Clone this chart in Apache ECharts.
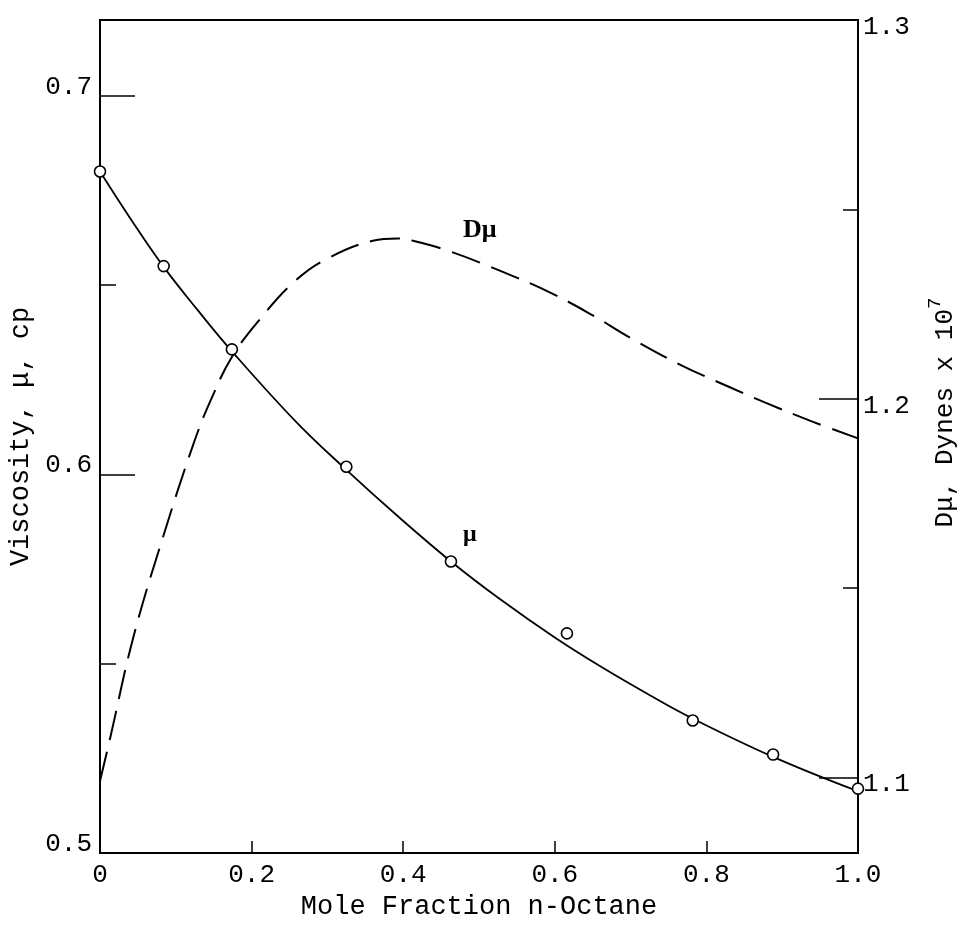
<!DOCTYPE html>
<html>
<head>
<meta charset="utf-8">
<script src="https://cdn.jsdelivr.net/npm/echarts@6/dist/echarts.min.js"></script>
<style>
html,body{margin:0;padding:0;background:#fff;}
#chart{width:962px;height:925px;}
</style>
</head>
<body>
<div id="chart"></div>
<script>
// ---- data ----
const muX = [0, 0.084, 0.174, 0.325, 0.463, 0.616, 0.782, 0.888, 1.0];
const muY = [0.680, 0.655, 0.633, 0.602, 0.577, 0.558, 0.535, 0.526, 0.517];

const muCurveX = [0, 0.042, 0.084, 0.13, 0.174, 0.26, 0.325, 0.396, 0.463, 0.528, 0.60, 0.66, 0.726, 0.782, 0.888, 1.0];
const muCurveY = [0.680, 0.6670, 0.6548, 0.6431, 0.6325, 0.6136, 0.6012, 0.5884, 0.5770, 0.5670, 0.5569, 0.5493, 0.5416, 0.5355, 0.5254, 0.5163];

const dmuX = [0, 0.013, 0.044, 0.084, 0.125, 0.147, 0.174, 0.211, 0.257, 0.30, 0.36, 0.393, 0.413, 0.46, 0.525, 0.594, 0.65, 0.70, 0.765, 0.831, 0.877, 0.939, 1.0];
const dmuY = [1.099, 1.110, 1.137, 1.164, 1.189, 1.200, 1.211, 1.221, 1.231, 1.237, 1.2417, 1.2423, 1.2417, 1.239, 1.234, 1.228, 1.222, 1.216, 1.209, 1.203, 1.199, 1.194, 1.1895];

const xTickLabels = [0, 0.2, 0.4, 0.6, 0.8, 1.0];
const xMinorTicks = [0.2, 0.4, 0.6, 0.8];
const leftLabels = [0.5, 0.6, 0.7];
const leftShortTicks = [0.55, 0.65];
const leftLongTicks = [0.5, 0.6, 0.7];
const rightLabels = [1.1, 1.2, 1.3];
const rightShortTicks = [1.15, 1.25];
const rightLongTicks = [1.1, 1.2];

const annotDmu = [[0.501, 1.2445]];
const annotMu = [[0.488, 0.584]];

const FONT = '"Liberation Mono", "DejaVu Sans Mono", monospace';
const zip = (a, b) => a.map((v, i) => [v, b[i]]);

const chart = echarts.init(document.getElementById('chart'), null, {renderer: 'canvas'});
chart.setOption({
  animation: false,
  backgroundColor: '#fff',
  grid: {left: 100, right: 104, top: 20, bottom: 72, outerBoundsMode: 'none', containLabel: false,
    show: true, borderColor: '#000', borderWidth: 2, backgroundColor: 'transparent'},
  xAxis: {
    type: 'value', min: 0, max: 1,
    name: 'Mole Fraction n-Octane', nameLocation: 'middle', nameGap: 38,
    nameTextStyle: {fontFamily: FONT, fontSize: 27, color: '#000'},
    axisLine: {show: true, lineStyle: {color: '#000', width: 2}},
    axisTick: {show: true, inside: true, length: 12, customValues: xMinorTicks, lineStyle: {color: '#000', width: 1.5}},
    axisLabel: {show: true, customValues: xTickLabels, margin: 9, fontFamily: FONT, fontSize: 26, color: '#000',
      formatter: v => (v === 0 ? '0' : v.toFixed(1))},
    splitLine: {show: false}
  },
  yAxis: [
    {
      type: 'value', position: 'left', min: 0.5, max: 0.72,
      name: 'Viscosity, μ, cp', nameLocation: 'middle', nameGap: 66,
      nameTextStyle: {fontFamily: FONT, fontSize: 27, color: '#000'},
      axisLine: {show: true, lineStyle: {color: '#000', width: 2}},
      axisTick: {show: true, inside: true, length: 16, customValues: leftShortTicks, lineStyle: {color: '#000', width: 1.5}},
      axisLabel: {show: true, customValues: leftLabels, margin: 8, fontFamily: FONT, fontSize: 26, color: '#000',
        verticalAlign: 'bottom', lineHeight: 18, formatter: v => v.toFixed(1)},
      splitLine: {show: false}
    },
    {
      type: 'value', position: 'right', min: 1.08, max: 1.30,
      name: '{a|Dμ, Dynes x 10}{s|7}', nameLocation: 'middle', nameGap: 67,
      nameTextStyle: {fontFamily: FONT, fontSize: 26, color: '#000', padding: [0, 0, 0, 48],
        rich: {a: {fontFamily: FONT, fontSize: 26, color: '#000', lineHeight: 40},
               s: {fontFamily: FONT, fontSize: 19, color: '#000', verticalAlign: 'top'}}},
      axisLine: {show: true, lineStyle: {color: '#000', width: 1.5}},
      axisTick: {show: true, inside: true, length: 15, customValues: rightShortTicks, lineStyle: {color: '#000', width: 1.5}},
      axisLabel: {show: true, customValues: rightLabels, margin: 5, fontFamily: FONT, fontSize: 26, color: '#000',
        verticalAlign: 'top', lineHeight: 14, formatter: v => v.toFixed(1)},
      splitLine: {show: false}
    },
    {
      type: 'value', position: 'left', min: 0.5, max: 0.72,
      axisLine: {show: false},
      axisTick: {show: true, inside: true, length: 35, customValues: leftLongTicks, lineStyle: {color: '#000', width: 1.5}},
      axisLabel: {show: false}, splitLine: {show: false}
    },
    {
      type: 'value', position: 'right', min: 1.08, max: 1.30,
      axisLine: {show: false},
      axisTick: {show: true, inside: true, length: 39, customValues: rightLongTicks, lineStyle: {color: '#000', width: 1.5}},
      axisLabel: {show: false}, splitLine: {show: false}
    }
  ],
  series: [
    {
      name: 'mu curve', type: 'line', yAxisIndex: 0, data: zip(muCurveX, muCurveY),
      smooth: 0.4, showSymbol: false, symbol: 'none',
      lineStyle: {color: '#000', width: 1.8}, z: 3
    },
    {
      name: 'Dmu', type: 'line', yAxisIndex: 1, data: zip(dmuX, dmuY),
      smooth: 0.4, showSymbol: false, symbol: 'none',
      lineStyle: {color: '#000', width: 2, type: [30, 12]}, z: 3
    },
    {
      name: 'mu points', type: 'scatter', yAxisIndex: 0, data: zip(muX, muY),
      symbol: 'circle', symbolSize: 11, clip: false,
      itemStyle: {color: '#fff', borderColor: '#000', borderWidth: 1.6, opacity: 1}, z: 5
    },
    {
      name: 'label Dmu', type: 'scatter', yAxisIndex: 1, data: annotDmu, symbolSize: 0, silent: true,
      itemStyle: {opacity: 1},
      label: {show: true, position: 'inside', formatter: 'Dμ', fontFamily: '"Liberation Serif", serif', fontSize: 26, fontWeight: 'bold', color: '#000'}
    },
    {
      name: 'label mu', type: 'scatter', yAxisIndex: 0, data: annotMu, symbolSize: 0, silent: true,
      itemStyle: {opacity: 1},
      label: {show: true, position: 'inside', formatter: 'μ', fontFamily: '"Liberation Serif", serif', fontSize: 24, fontWeight: 'bold', color: '#000'}
    }
  ]
});
</script>
</body>
</html>
